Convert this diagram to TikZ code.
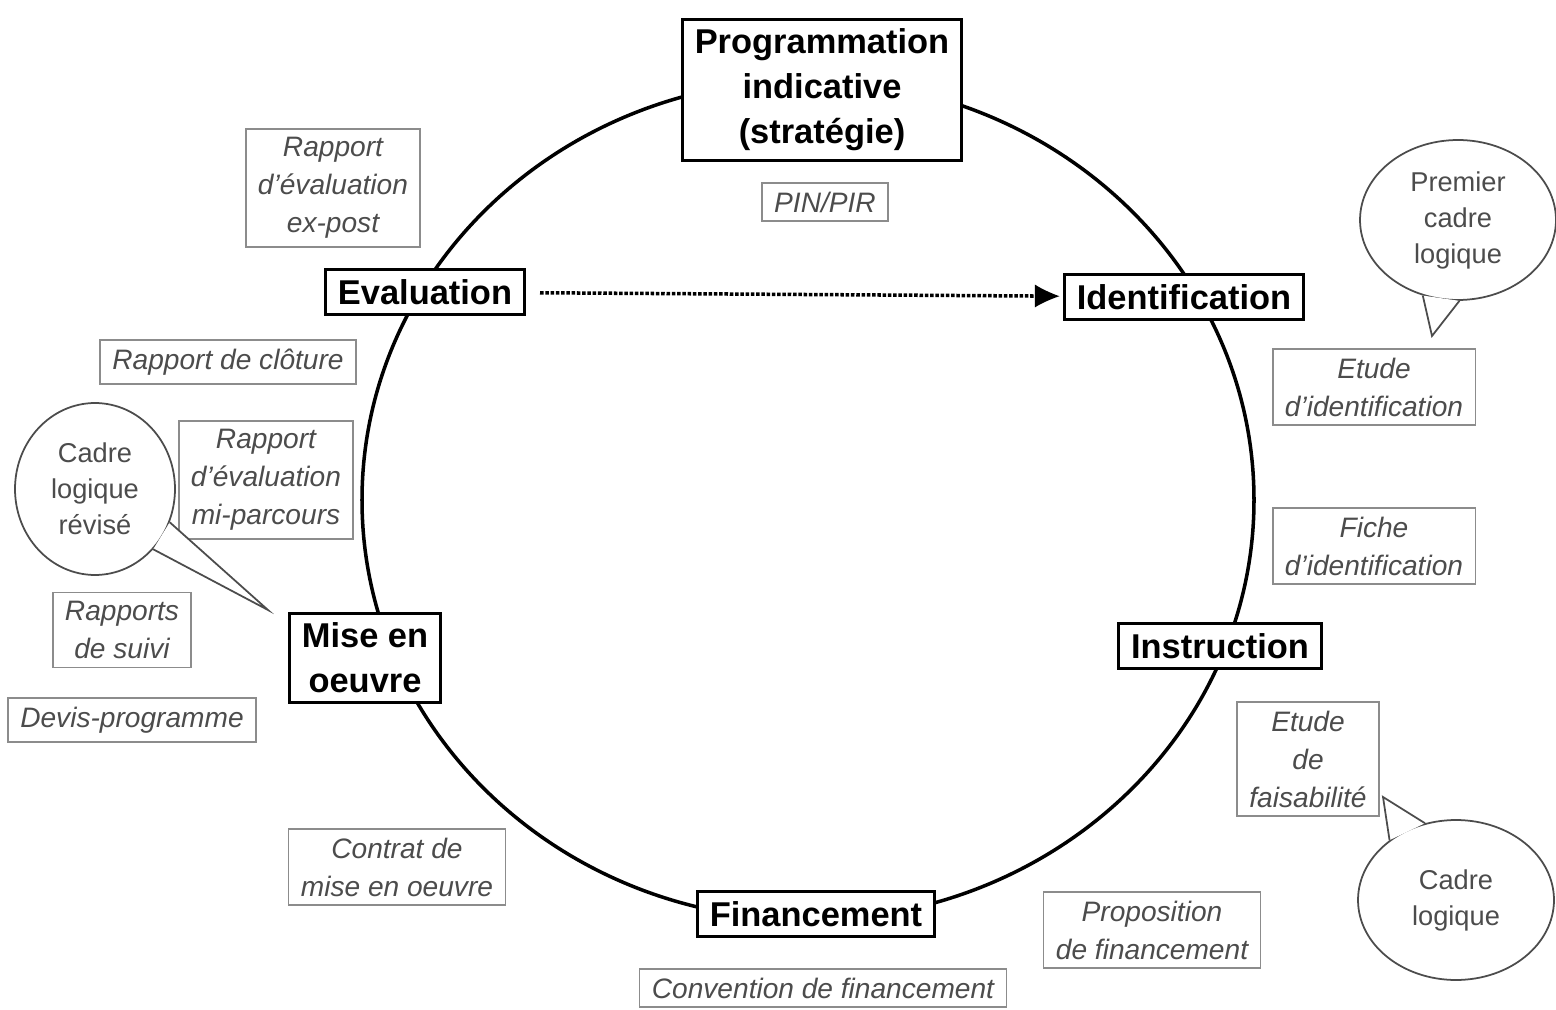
\documentclass[tikz,border=0pt]{standalone}
\usepackage{fontspec}
\setmainfont{Liberation Sans}
\usetikzlibrary{shapes.geometric,arrows.meta}

\begin{document}
\begin{tikzpicture}[x=0.02cm,y=-0.02cm,
  stage/.style={draw,fill=white,line width=1.8pt,inner xsep=7pt,inner ysep=5.5pt,align=center,
    font=\fontsize{19.6}{25.6}\selectfont\bfseries},
  doc/.style={draw=black!45,fill=white,line width=1pt,inner xsep=7pt,inner ysep=5pt,align=center,
    text=black!70,font=\fontsize{16}{21.6}\selectfont\itshape},
  bubble/.style={draw=black!70,fill=white,ellipse,line width=1pt,inner sep=0pt,align=center,
    text=black!70,font=\fontsize{15.5}{20.5}\selectfont},
  tail/.style={draw=black!70,line width=1pt,line join=miter}]

  \useasboundingbox (0,0) rectangle (1556,1010);

  % the cycle
  \draw[line width=2pt] (808,500) ellipse [x radius=446, y radius=420];

  % stages
  \node[stage] (prog) at (822,90) {Programmation\\indicative\\(stratégie)};
  \node[stage] (eval) at (425,292) {Evaluation};
  \node[stage] (ident) at (1184,297) {Identification};
  \node[stage] (instr) at (1220,646) {Instruction};
  \node[stage] (finan) at (816,914) {Financement};
  \node[stage] (mise) at (365,658) {Mise en\\oeuvre};

  % documents
  \node[doc] (pin) at (825,202) {PIN/PIR};
  \node[doc] (expost) at (333,188) {Rapport\\d'évaluation\\ex-post};
  \node[doc] (etudeid) at (1374,387) {Etude\\d'identification};
  \node[doc] (fiche) at (1374,546) {Fiche\\d'identification};
  \node[doc] (faisab) at (1308,759) {Etude\\de\\faisabilité};
  \node[doc] (propfin) at (1152,930) {Proposition\\de financement};
  \node[doc] (convfin) at (823,988) {Convention de financement};
  \node[doc] (contrat) at (397,867) {Contrat de\\mise en oeuvre};
  \node[doc] (devis) at (132,720) {Devis-programme};
  \node[doc] (suivi) at (122,630) {Rapports\\de suivi};
  \node[doc] (miparc) at (266,480) {Rapport\\d'évaluation\\mi-parcours};
  \node[doc] (cloture) at (228,362) {Rapport de clôture};

  \draw[densely dotted,line width=2pt,shorten <=8pt,shorten >=2pt,
    -{Latex[length=14pt,width=13pt,line width=0pt]}] (eval) -- (ident);

  % speech bubbles
  \node[bubble,minimum width=3.92cm,minimum height=3.2cm] (premier) at (1458,220) {Premier\\cadre\\logique};
  \coordinate (premiertip) at (1432,336);
  \fill[white] (premier.245) -- (premiertip) -- (premier.271) -- cycle;
  \draw[tail] (premier.245) -- (premiertip) -- (premier.271);

  \node[bubble,minimum width=3.92cm,minimum height=3.2cm] (cadre) at (1456,900) {Cadre\\logique};
  \coordinate (cadretip) at (1383,797);
  \fill[white] (cadre.138) -- (cadretip) -- (cadre.112) -- cycle;
  \draw[tail] (cadre.138) -- (cadretip) -- (cadre.112);

  \node[bubble,minimum width=3.2cm,minimum height=3.44cm] (revise) at (95,489) {Cadre\\logique\\révisé};
  \coordinate (revisetip) at (268,610);
  \fill[white] (revise.336) -- (revisetip) -- (revise.314) -- cycle;
  \draw[tail] (revise.336) -- (revisetip) -- (revise.314);

\end{tikzpicture}
\end{document}
